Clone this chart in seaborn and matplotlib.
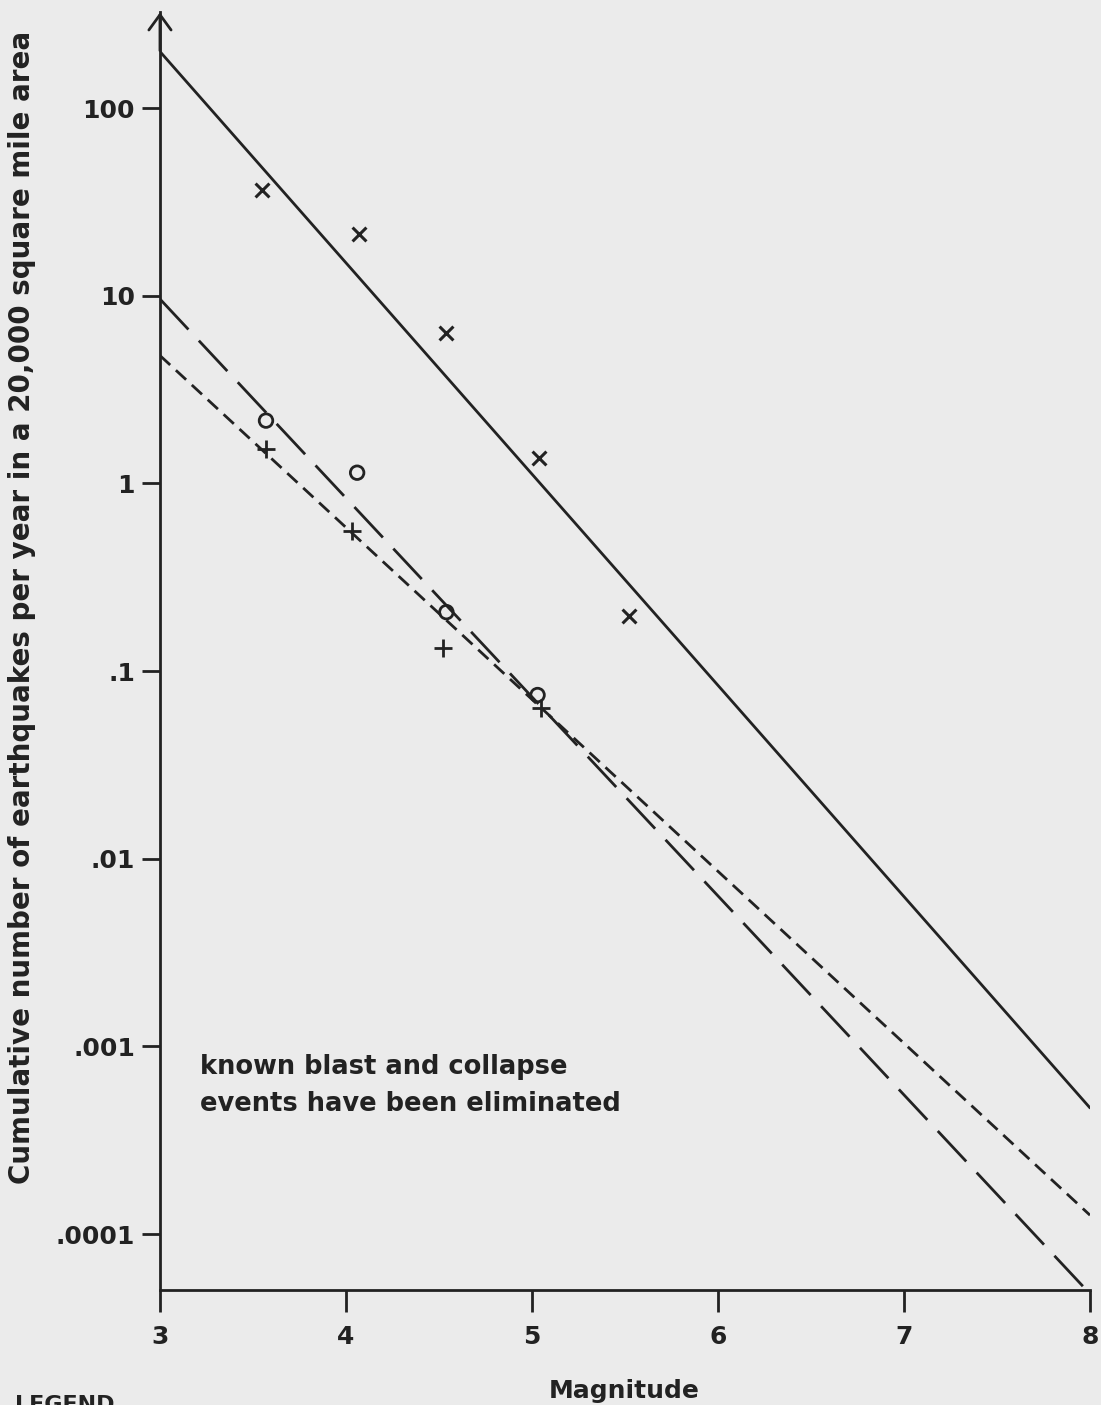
import matplotlib
matplotlib.use("Agg")
import matplotlib.pyplot as plt
import seaborn as sns
import pandas as pd

# fitted recurrence lines (end points at magnitude 3 and 8)
fit_mag = [3, 8]
fit_x_line = [200, 4.7e-4]       # solid
fit_o_line = [9.6, 4.8e-5]       # long dashed
fit_plus_line = [4.8, 1.26e-4]   # short dashed

# observed cumulative rates
x_mag = [3.55, 4.07, 4.54, 5.04, 5.52]
x_rate = [36.6, 21.4, 6.3, 1.36, 0.196]
o_mag = [3.57, 4.06, 4.54, 5.03]
o_rate = [2.16, 1.14, 0.206, 0.0745]
p_mag = [3.57, 4.03, 4.52, 5.05]
p_rate = [1.52, 0.555, 0.1325, 0.0636]

yticks = [1e-4, 1e-3, 1e-2, 1e-1, 1, 10, 100]
ytick_labels = [".0001", ".001", ".01", ".1", "1", "10", "100"]
xticks = [3, 4, 5, 6, 7, 8]

sns.set_style("white")
plt.rcParams['font.family'] = ['DejaVu Sans']
ink = "#222222"
bg = "#ebebeb"

fig = plt.figure(figsize=(11.01, 14.05), dpi=100, facecolor=bg)
ax = fig.add_axes([0.1453, 0.0819, 0.8447, 0.9093])
ax.set_facecolor(bg)

lines = pd.DataFrame({
    "mag": fit_mag * 3,
    "rate": fit_x_line + fit_o_line + fit_plus_line,
    "set": ["x"] * 2 + ["o"] * 2 + ["p"] * 2,
})
sns.lineplot(data=lines, x="mag", y="rate", style="set", color=ink, lw=2,
             dashes={"x": "", "o": (15, 5.5), "p": (5, 2.8)}, legend=False, ax=ax)

sns.scatterplot(x=x_mag, y=x_rate, marker="x", s=100, color=ink, linewidth=2.2, ax=ax)
sns.scatterplot(x=o_mag, y=o_rate, marker="o", s=95, facecolor="none",
                edgecolor=ink, linewidth=2, ax=ax)
sns.scatterplot(x=p_mag, y=p_rate, marker="+", s=170, color=ink, linewidth=2, ax=ax)

ax.set_yscale("log")
ax.set_xlim(3, 8)
ax.set_ylim(10 ** -4.298, 10 ** 2.51)
ax.set_xticks(xticks)
ax.set_xticklabels([str(t) for t in xticks])
ax.set_yticks(yticks)
ax.set_yticklabels(ytick_labels)
ax.minorticks_off()

for s in ["top", "right"]:
    ax.spines[s].set_visible(False)
for s in ["left", "bottom"]:
    ax.spines[s].set_color(ink)
    ax.spines[s].set_linewidth(2)

ax.tick_params(axis="x", bottom=True, direction="out", length=16, width=2, color=ink,
               pad=9, labelsize=18, labelcolor=ink)
ax.tick_params(axis="y", left=True, direction="out", length=13, width=2, color=ink,
               pad=5, labelsize=18, labelcolor=ink)
for lab in ax.get_xticklabels() + ax.get_yticklabels():
    lab.set_fontweight("bold")

# arrow at top of y axis
ax.annotate("", xy=(0, 1.0), xycoords="axes fraction", xytext=(0, 0.97),
            textcoords="axes fraction", annotation_clip=False,
            arrowprops=dict(arrowstyle="->,head_width=0.8,head_length=1.1",
                            color=ink, lw=2, shrinkA=0, shrinkB=0))

ax.set_xlabel("Magnitude", fontsize=18, fontweight="bold", color=ink)
ax.xaxis.set_label_coords(0.567, 0.0185, transform=fig.transFigure)
ax.set_ylabel("Cumulative number of earthquakes per year in a 20,000 square mile area",
              fontsize=20, fontweight="bold", color=ink, va="center")
ax.yaxis.set_label_coords(0.02, 0.568, transform=fig.transFigure)

ax.text(0.043, 0.185, "known blast and collapse\nevents have been eliminated",
        transform=ax.transAxes, fontsize=18.5, fontweight="bold", color=ink,
        va="top", ha="left", linespacing=1.55)

fig.text(0.0136, 0.0072, "LEGEND", fontsize=16, fontweight="bold", color=ink,
         va="top", ha="left")

fig.savefig("out.png", dpi=100, facecolor=bg)
